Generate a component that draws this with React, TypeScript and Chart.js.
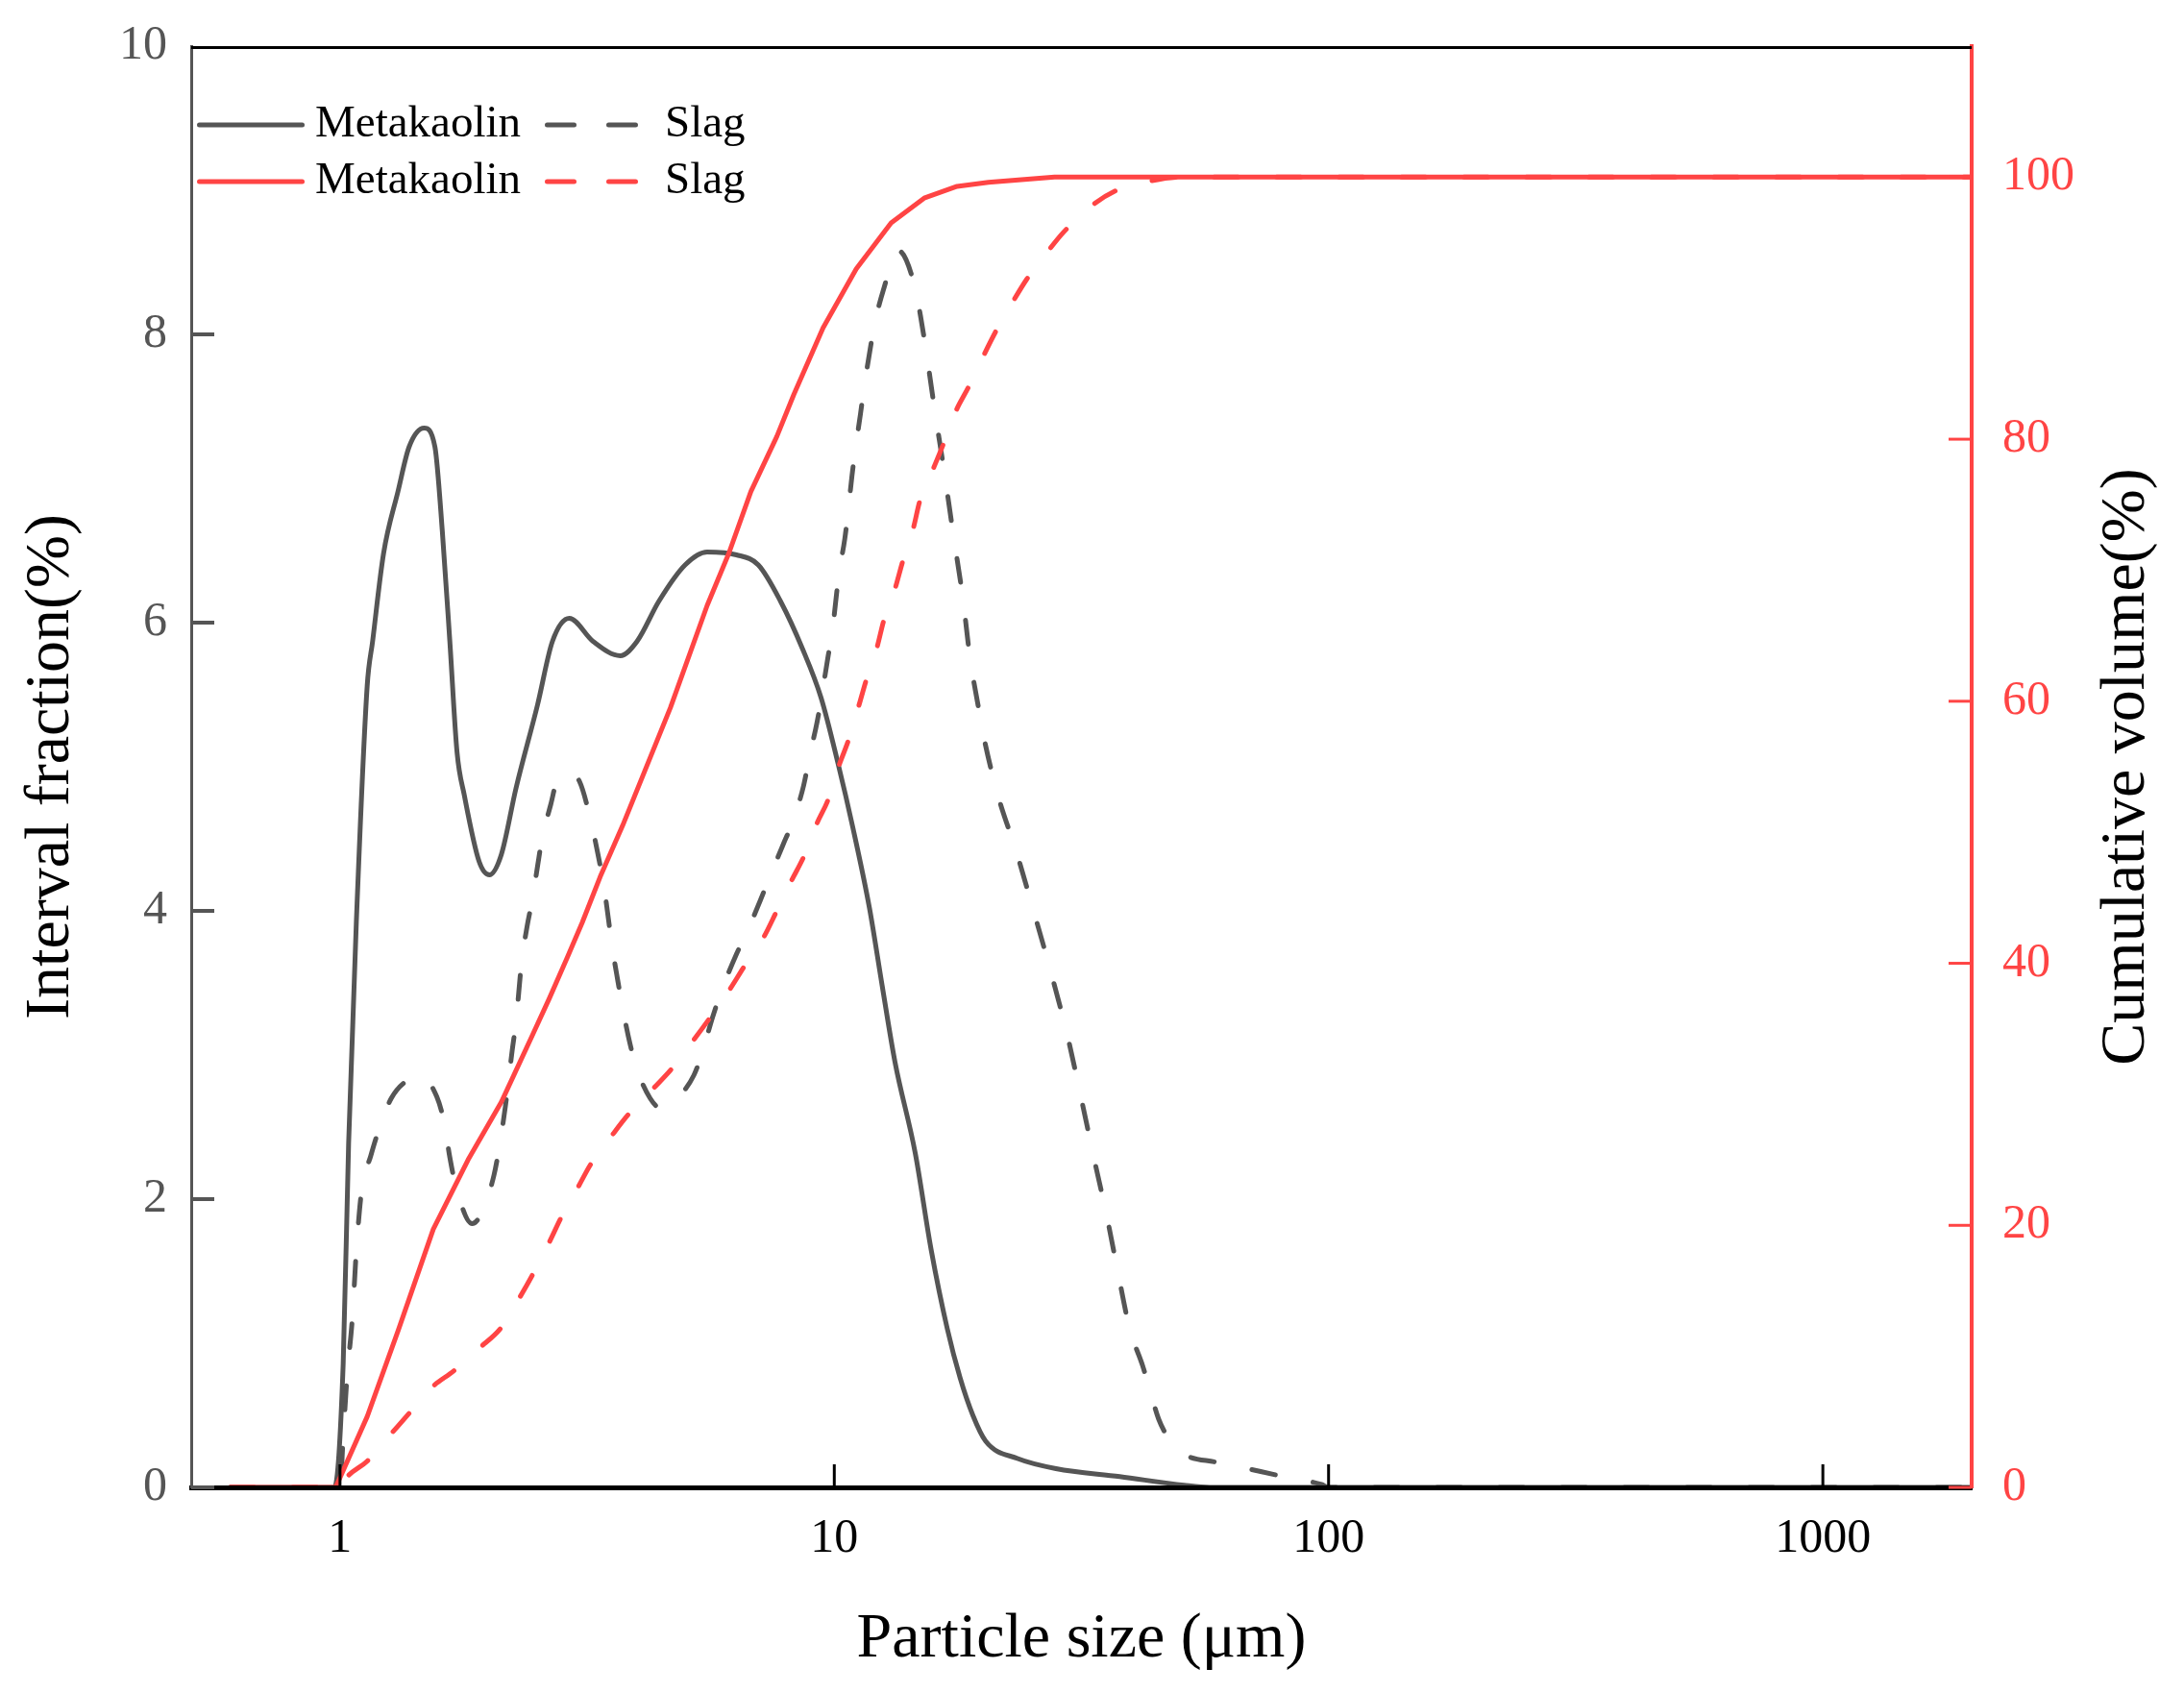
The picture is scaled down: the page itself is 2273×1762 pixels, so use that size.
import React, { useRef, useEffect } from 'react';
import Chart from 'chart.js/auto';

const SERIF = '"Liberation Serif", "Times New Roman", serif';
const GREY = '#555555';
const RED = '#FF4444';

// Metakaolin - interval fraction (%)
const mkSize = [0.6, 0.975, 1.015, 1.041, 1.079, 1.135, 1.164, 1.225, 1.31, 1.38, 1.48, 1.556, 1.611, 1.668, 1.725, 1.785, 1.913, 2.006, 2.12, 2.27, 2.51, 2.69, 2.91, 3.25, 3.69, 3.99, 4.42, 4.99, 5.53, 6.34, 7.02, 7.78, 8.62, 9.4, 10.18, 10.9, 11.78, 12.5, 13.27, 14.58, 15.7, 16.93, 17.97, 19.07, 20.25, 23.5, 28.1, 37.8, 51, 57.5, 2000];
const mkInterval = [0, 0, 0.86, 2.39, 3.92, 5.56, 5.87, 6.48, 6.91, 7.22, 7.35, 7.22, 6.63, 5.87, 5.1, 4.8, 4.34, 4.25, 4.39, 4.85, 5.43, 5.87, 6.03, 5.87, 5.77, 5.87, 6.15, 6.4, 6.49, 6.47, 6.4, 6.15, 5.82, 5.48, 5.02, 4.58, 4.02, 3.48, 2.95, 2.32, 1.65, 1.1, 0.76, 0.5, 0.32, 0.2, 0.13, 0.075, 0.015, 0, 0];

// Slag - interval fraction (%)
const slagSize = [0.6, 1.0, 1.015, 1.033, 1.06, 1.078, 1.106, 1.154, 1.195, 1.27, 1.39, 1.45, 1.57, 1.625, 1.668, 1.71, 1.85, 1.945, 2.05, 2.1, 2.16, 2.23, 2.27, 2.33, 2.39, 2.45, 2.51, 2.56, 2.67, 2.76, 2.91, 3.05, 3.22, 3.34, 3.41, 3.49, 3.55, 3.65, 3.72, 3.86, 3.98, 4.24, 4.46, 4.66, 5.2, 5.43, 5.67, 5.92, 6.34, 6.67, 7.08, 7.43, 7.88, 8.26, 8.67, 8.92, 9.23, 9.44, 9.72, 9.89, 10.23, 10.5, 10.68, 10.86, 11.04, 11.3, 11.5, 12.07, 12.55, 13.49, 14.56, 14.94, 15.33, 15.99, 16.7, 17.43, 18.2, 18.83, 19.6, 20.0, 21.4, 23.4, 25.4, 27.5, 29.6, 31.5, 33.5, 35.6, 37.3, 39.6, 42.0, 43.3, 45.3, 47.9, 51.0, 59.2, 72.9, 82.2, 96.8, 100, 2000];
const slagInterval = [0, 0, 0.35, 0.76, 1.19, 1.62, 2.06, 2.3, 2.47, 2.7, 2.84, 2.86, 2.71, 2.53, 2.29, 2.11, 1.83, 1.92, 2.17, 2.36, 2.64, 3.03, 3.23, 3.64, 3.89, 4.08, 4.31, 4.49, 4.74, 4.92, 4.95, 4.9, 4.62, 4.36, 4.2, 3.95, 3.76, 3.51, 3.35, 3.08, 2.91, 2.7, 2.63, 2.66, 2.86, 3.04, 3.26, 3.45, 3.7, 3.86, 4.07, 4.25, 4.46, 4.63, 4.87, 5.08, 5.31, 5.5, 5.77, 5.92, 6.35, 6.58, 6.79, 7.02, 7.21, 7.45, 7.64, 8.07, 8.3, 8.58, 8.33, 8.13, 7.89, 7.46, 7.04, 6.6, 6.17, 5.75, 5.4, 5.23, 4.81, 4.4, 3.98, 3.56, 3.14, 2.72, 2.29, 1.88, 1.53, 1.1, 0.85, 0.7, 0.475, 0.32, 0.23, 0.175, 0.11, 0.07, 0.02, 0, 0];

// Metakaolin - cumulative volume (%)
const mkCumSize = [0.6, 0.98, 1.135, 1.312, 1.544, 1.816, 2.12, 2.45, 2.65, 2.88, 3.09, 3.36, 3.73, 4.66, 5.53, 6.12, 6.78, 7.65, 8.28, 9.49, 11.08, 13.03, 15.2, 17.72, 20.5, 27.9, 2000];
const mkCumulative = [0, 0, 5.4, 12.0, 19.7, 25.0, 29.4, 34.5, 37.3, 40.4, 43.1, 46.6, 50.5, 59.5, 67.3, 71.3, 76.0, 80.2, 83.4, 88.5, 93.0, 96.5, 98.4, 99.3, 99.6, 100, 100];

// Slag - cumulative volume (%)
const slagCumSize = [0.6, 1.0, 1.03, 1.135, 1.27, 1.38, 1.53, 1.7, 1.91, 2.12, 2.31, 2.47, 2.65, 2.81, 3.03, 3.22, 3.54, 3.82, 4.28, 4.7, 5.16, 5.57, 6.12, 6.56, 7.2, 7.65, 8.19, 8.69, 9.23, 9.72, 10.2, 10.7, 11.2, 11.6, 12.2, 12.6, 13.25, 13.76, 14.45, 14.9, 15.8, 16.65, 17.6, 18.7, 20.0, 21.2, 22.9, 24.5, 27.0, 29.1, 33.4, 37.3, 43.5, 50, 2000];
const slagCumulative = [0, 0, 0.74, 2.0, 4.1, 5.65, 7.6, 8.9, 10.6, 12.2, 14.5, 16.45, 18.7, 20.7, 22.9, 24.7, 26.8, 28.4, 30.35, 32.0, 34.0, 35.7, 37.9, 39.7, 42.0, 44.0, 46.3, 48.2, 50.7, 52.5, 55.0, 57.1, 59.6, 61.6, 64.1, 66.2, 68.5, 70.7, 73.2, 75.3, 77.6, 79.7, 82.1, 84.0, 86.3, 88.2, 90.4, 92.2, 94.3, 95.8, 97.9, 99.0, 99.7, 100, 100];

const xTicks = [1, 10, 100, 1000];
const leftTicks = [0, 2, 4, 6, 8, 10];
const rightTicks = [0, 20, 40, 60, 80, 100];

const X_TITLE = 'Particle size (\u03bcm)';
const LEFT_TITLE = 'Interval fraction(%)';
const RIGHT_TITLE = 'Cumulative volume(%)';

const DASH = [25, 40];
const TICK_LEN = 24;

const toPoints = (xs: number[], ys: number[]) => xs.map((x, i) => ({ x, y: ys[i] }));

// legend sits inside the plot, two entries per row
const legendCols = [
  { from: 207.5, to: 314.5, text: 328, dash: [] as number[] },
  { from: 569.5, to: 662.5, text: 692, dash: [28, 36] },
];
const legendRows = [130, 189];

const cornerLegend = {
  id: 'cornerLegend',
  afterDraw(chart: any) {
    const { ctx } = chart;
    ctx.save();
    ctx.font = `47px ${SERIF}`;
    ctx.textBaseline = 'middle';
    ctx.textAlign = 'left';
    chart.data.datasets.forEach((ds: any, i: number) => {
      const col = legendCols[i % 2];
      const y = legendRows[Math.floor(i / 2)];
      ctx.strokeStyle = ds.borderColor;
      ctx.lineWidth = ds.borderWidth;
      ctx.lineCap = 'round';
      ctx.setLineDash(ds.borderDash && ds.borderDash.length ? col.dash : []);
      ctx.beginPath();
      ctx.moveTo(col.from, y);
      ctx.lineTo(col.to, y);
      ctx.stroke();
      ctx.setLineDash([]);
      ctx.fillStyle = '#000';
      ctx.fillText(ds.label, col.text, y);
    });
    ctx.restore();
  },
};

// inward tick marks, top frame line and the right axis title (reads bottom to top)
const frame = {
  id: 'frame',
  afterDraw(chart: any) {
    const { ctx, chartArea: a, scales } = chart;
    ctx.save();
    ctx.lineCap = 'butt';
    ctx.strokeStyle = '#000';
    ctx.lineWidth = 3;
    ctx.beginPath();
    ctx.moveTo(a.left, a.top + 1.5);
    ctx.lineTo(a.right, a.top + 1.5);
    ctx.stroke();

    xTicks.forEach((v) => {
      const p = scales.x.getPixelForValue(v);
      ctx.beginPath();
      ctx.moveTo(p, a.bottom);
      ctx.lineTo(p, a.bottom - TICK_LEN);
      ctx.stroke();
    });

    ctx.strokeStyle = GREY;
    ctx.lineWidth = 4;
    leftTicks.slice(0, -1).forEach((v) => {
      const p = scales.y.getPixelForValue(v);
      ctx.beginPath();
      ctx.moveTo(a.left, p);
      ctx.lineTo(a.left + TICK_LEN, p);
      ctx.stroke();
    });

    ctx.strokeStyle = RED;
    ctx.lineWidth = 3;
    rightTicks.forEach((v) => {
      const p = scales.y2.getPixelForValue(v);
      ctx.beginPath();
      ctx.moveTo(a.right, p);
      ctx.lineTo(a.right - TICK_LEN, p);
      ctx.stroke();
    });

    ctx.translate(scales.y2.right - 59, (a.top + a.bottom) / 2);
    ctx.rotate(-Math.PI / 2);
    ctx.font = `66px ${SERIF}`;
    ctx.fillStyle = '#000';
    ctx.textAlign = 'center';
    ctx.textBaseline = 'middle';
    ctx.fillText(RIGHT_TITLE, 0, 0);
    ctx.restore();
  },
};

// fixed box sizes so the plot area lands where the reference has it
const fixBox = (size: number) => (s: any) => {
  if (s.isHorizontal()) s.height = size;
  else s.width = size;
  s.paddingTop = 0;
  s.paddingBottom = 0;
  s.paddingLeft = 0;
  s.paddingRight = 0;
};

const App: React.FC = () => {
  const canvasRef = useRef<HTMLCanvasElement>(null);

  useEffect(() => {
    document.body.style.margin = '0';
    if (!canvasRef.current) return;

    const chart = new Chart(canvasRef.current, {
      type: 'scatter',
      data: {
        datasets: [
          {
            label: 'Metakaolin',
            data: toPoints(mkSize, mkInterval),
            yAxisID: 'y',
            borderColor: GREY,
            borderWidth: 5,
            cubicInterpolationMode: 'monotone',
            order: 2,
          },
          {
            label: 'Slag',
            data: toPoints(slagSize, slagInterval),
            yAxisID: 'y',
            borderColor: GREY,
            borderWidth: 5,
            borderDash: DASH,
            cubicInterpolationMode: 'monotone',
            order: 2,
          },
          {
            label: 'Metakaolin',
            data: toPoints(mkCumSize, mkCumulative),
            yAxisID: 'y2',
            borderColor: RED,
            borderWidth: 5,
            tension: 0,
            order: 1,
          },
          {
            label: 'Slag',
            data: toPoints(slagCumSize, slagCumulative),
            yAxisID: 'y2',
            borderColor: RED,
            borderWidth: 5,
            borderDash: DASH,
            cubicInterpolationMode: 'monotone',
            order: 1,
          },
        ].map((ds) => ({
          ...ds,
          showLine: true,
          pointRadius: 0,
          pointHoverRadius: 0,
          borderCapStyle: 'round',
          borderJoinStyle: 'round',
          fill: false,
        })) as any,
      },
      options: {
        animation: false,
        responsive: false,
        events: [],
        layout: { padding: { top: 48, left: 0, right: 0, bottom: 0 } },
        plugins: {
          legend: { display: false },
          tooltip: { enabled: false },
        },
        scales: {
          x: {
            type: 'logarithmic',
            position: 'bottom',
            min: 0.5,
            max: 2000,
            afterBuildTicks: (s: any) => {
              s.ticks = xTicks.map((v) => ({ value: v }));
            },
            afterFit: fixBox(214),
            grid: { display: false, drawTicks: false },
            border: { display: true, color: '#000', width: 5, z: 1 },
            ticks: {
              color: '#000',
              font: { family: SERIF, size: 50 },
              padding: 24,
              maxRotation: 0,
              callback: (v: any) => String(v),
            },
            title: {
              display: true,
              text: X_TITLE,
              color: '#000',
              font: { family: SERIF, size: 66 },
              padding: { top: 0, bottom: 16 },
            },
          },
          y: {
            type: 'linear',
            position: 'left',
            min: 0,
            max: 10,
            afterBuildTicks: (s: any) => {
              s.ticks = leftTicks.map((v) => ({ value: v }));
            },
            afterFit: fixBox(199),
            grid: { display: false, drawTicks: false },
            border: { display: true, color: GREY, width: 3, z: 1 },
            ticks: {
              color: GREY,
              font: { family: SERIF, size: 50 },
              padding: 25,
            },
            title: {
              display: true,
              text: LEFT_TITLE,
              color: '#000',
              font: { family: SERIF, size: 66 },
              padding: { top: 14, bottom: 0 },
            },
          },
          y2: {
            type: 'linear',
            position: 'right',
            min: 0,
            max: 110,
            afterBuildTicks: (s: any) => {
              s.ticks = rightTicks.map((v) => ({ value: v }));
            },
            afterFit: fixBox(221),
            grid: { display: false, drawTicks: false },
            border: { display: true, color: RED, width: 4, z: 1 },
            ticks: {
              color: RED,
              font: { family: SERIF, size: 50 },
              padding: 32,
            },
            title: { display: false },
          },
        },
      } as any,
      plugins: [cornerLegend, frame],
    });

    return () => {
      chart.destroy();
    };
  }, []);

  return (
    <div style={{ width: 2273, height: 1762, background: '#fff' }}>
      <canvas ref={canvasRef} width={2273} height={1762} style={{ display: 'block' }} />
    </div>
  );
};

export default App;
